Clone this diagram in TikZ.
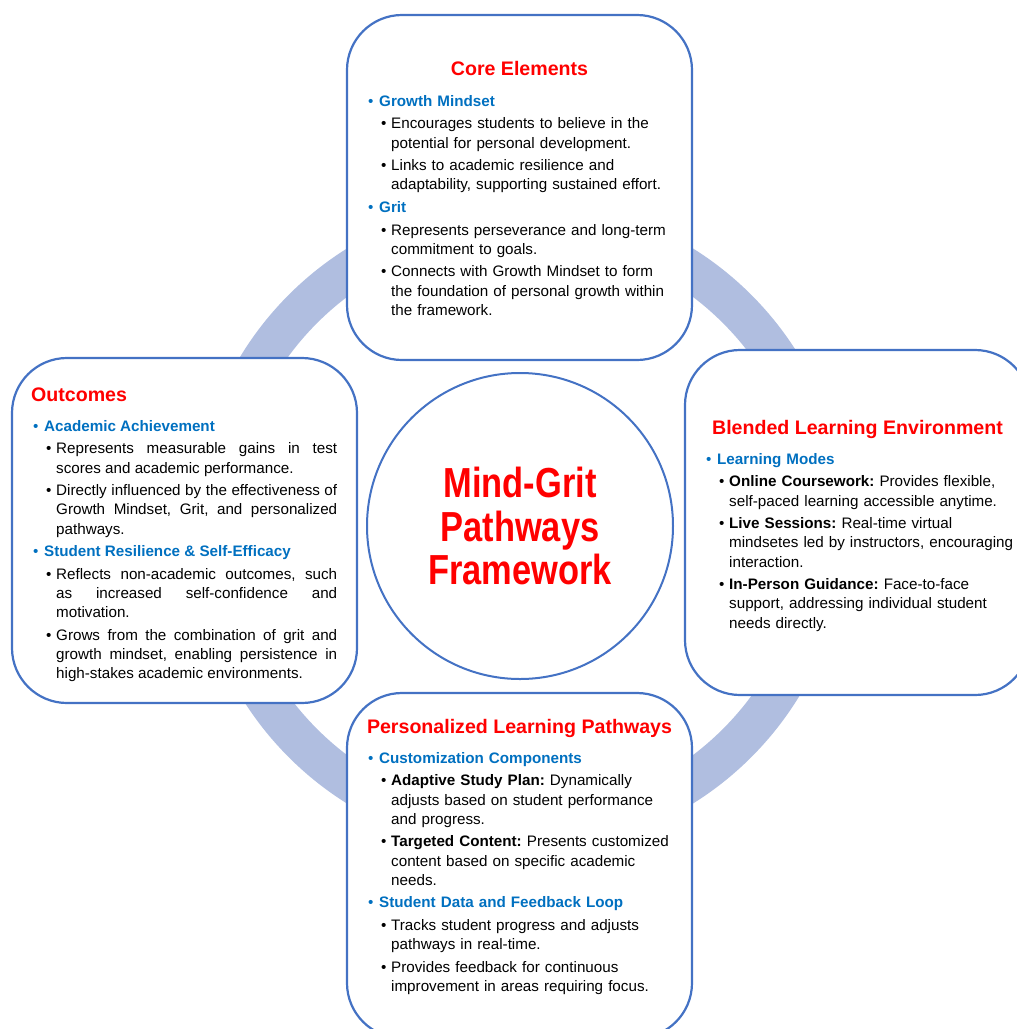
\documentclass[tikz,border=0pt]{standalone}
\usepackage{fontspec}
\setmainfont{Liberation Sans}
\newfontfamily\hubfont[FakeStretch=0.82]{Liberation Sans}

\definecolor{ringblue}{RGB}{176,190,224}
\definecolor{edgeblue}{RGB}{68,114,196}
\definecolor{headblue}{RGB}{0,112,192}
\definecolor{titlered}{RGB}{255,0,0}

% blue first-level bullet and black second-level bullet
\newcommand\topic[1]{\par\noindent\hspace*{21pt}%
  \makebox[11pt][l]{\color{headblue}\textbullet}{\color{headblue}\bfseries #1}\par}
\newcommand\point[1]{\par\noindent\hangindent=44pt\hangafter=1\hspace*{34pt}%
  \makebox[10pt][l]{\textbullet}#1\par}
\newcommand\loosebody{\tolerance=10000\relax}

\tikzset{
  panel/.style={draw=edgeblue, line width=2.2pt, fill=white,
    rounded corners=55pt, minimum width=345pt, minimum height=345pt,
    inner sep=0pt, outer sep=0pt},
  hub/.style={circle, draw=edgeblue, line width=2pt, fill=white,
    minimum size=306pt, inner sep=0pt},
  ring/.style={ringblue, line width=40pt},
  paneltitle/.style={text=titlered, inner sep=0pt,
    font=\fontsize{19.6}{23}\selectfont\bfseries},
  panelbody/.style={anchor=north west, inner sep=0pt, text width=#1,
    align=left, font=\fontsize{15.2}{19.2}\selectfont\frenchspacing\setlength{\parskip}{3.4pt}},
  panelbodyjust/.style={panelbody=#1, align=justify}
}

\begin{document}
\begin{tikzpicture}[x=1pt, y=-1pt]
\useasboundingbox (0,0) rectangle (1017,1029);
\clip (0,0) rectangle (1017,1029);

% ring behind everything
\draw[ring] (520,526) circle (307pt);

\node[hub, text=titlered, align=center,
  font=\hubfont\bfseries\fontsize{42}{43.7}\selectfont] (hub) at (520,526)
  {Mind-Grit\\Pathways\\Framework};

% four panels
\node[panel] (core) at (519.5,187.5) {};
\node[panel] (outcomes) at (184.5,530.5) {};
\node[panel] (blended) at (857.5,522.5) {};
\node[panel] (paths) at (519.5,865.5) {};

% titles
\node[paneltitle, anchor=base] (core-title) at (519.5,75) {Core Elements};
\node[paneltitle, anchor=base west] (outcomes-title) at (31,401) {Outcomes};
\node[paneltitle, anchor=base] (blended-title) at (857.5,434) {Blended Learning Environment};
\node[paneltitle, anchor=base] (paths-title) at (519.5,733) {Personalized Learning Pathways};

% panel texts
\node[panelbody=335pt] (core-body) at ([yshift=-68.5pt]core.north west) {%
\topic{Growth Mindset}
\point{Encourages students to believe in the\newline potential for personal development.}
\point{Links to academic resilience and\newline adaptability, supporting sustained effort.}
\topic{Grit}
\point{Represents perseverance and long-term\newline commitment to goals.}
\point{Connects with Growth Mindset to form\newline the foundation of personal growth within\newline the framework.}};

\node[panelbodyjust=325pt] (outcomes-body) at ([yshift=-50.5pt]outcomes.north west) {%
\loosebody
\topic{Academic Achievement}
\point{Represents measurable gains in test\linebreak scores and academic performance.}
\point{Directly influenced by the effectiveness of\linebreak Growth Mindset, Grit, and personalized\linebreak pathways.}
\topic{Student Resilience \& Self-Efficacy}
\point{Reflects non-academic outcomes, such\linebreak as increased self-confidence and\linebreak motivation.}
\point{Grows from the combination of grit and\linebreak growth mindset, enabling persistence in\linebreak high-stakes academic environments.}};

\node[panelbody=340pt] (blended-body) at ([yshift=-91.5pt]blended.north west) {%
\topic{Learning Modes}
\point{\textbf{Online Coursework:} Provides flexible,\newline self-paced learning accessible anytime.}
\point{\textbf{Live Sessions:} Real-time virtual\newline mindsetes led by instructors, encouraging\newline interaction.}
\point{\textbf{In-Person Guidance:} Face-to-face\newline support, addressing individual student\newline needs directly.}};

\node[panelbody=335pt] (paths-body) at ([yshift=-47.5pt]paths.north west) {%
\topic{Customization Components}
\point{\textbf{Adaptive Study Plan:} Dynamically\newline adjusts based on student performance\newline and progress.}
\point{\textbf{Targeted Content:} Presents customized\newline content based on specific academic\newline needs.}
\topic{Student Data and Feedback Loop}
\point{Tracks student progress and adjusts\newline pathways in real-time.}
\point{Provides feedback for continuous\newline improvement in areas requiring focus.}};
\end{tikzpicture}
\end{document}
